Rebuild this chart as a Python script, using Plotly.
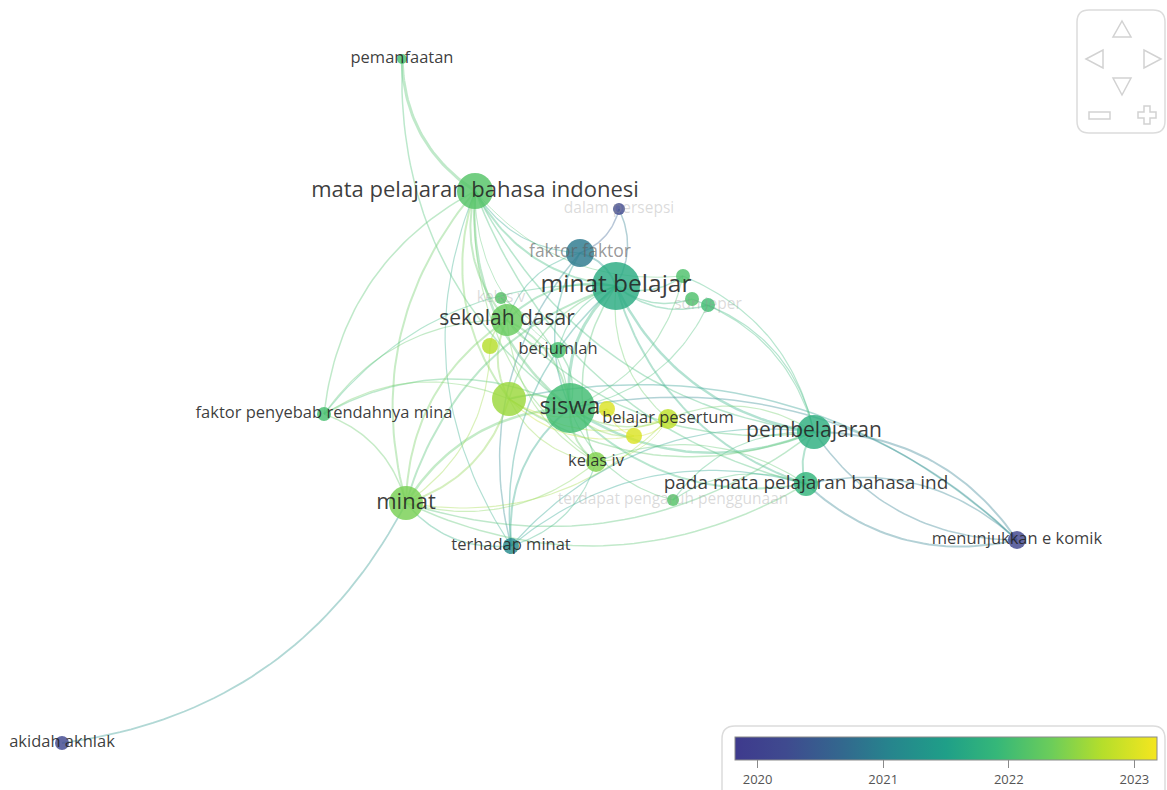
import numpy as np
import plotly.graph_objects as go

# ---------------- data ----------------
node_ids = ["pemanfaatan", "mpbi", "persepsi", "faktor", "minat_belajar", "n1", "n2", "sdn",
            "kelas_v", "sd", "n3", "berjumlah", "n4", "siswa", "n5", "pesertum", "n6",
            "kelas_iv", "terdapat", "pada_mata", "pembelajaran", "penyebab", "minat",
            "terhadap", "komik", "akidah"]
node_labels = ["pemanfaatan", "mata pelajaran bahasa indonesi", "dalam persepsi", "faktor faktor",
               "minat belajar", "", "", "sdn jeper", "kelas v", "sekolah dasar", "", "berjumlah",
               "", "siswa", "", "belajar pesertum", "", "kelas iv", "terdapat pengaruh penggunaan",
               "pada mata pelajaran bahasa ind", "pembelajaran", "faktor penyebab rendahnya mina",
               "minat", "terhadap minat", "menunjukkan e komik", "akidah akhlak"]
node_x = [402, 475, 619, 580, 616, 683, 692, 708, 501, 507, 490, 558, 509, 570, 607, 668, 634,
          596, 673, 806, 814, 324, 406, 511, 1017, 62]
node_y = [59, 191, 209, 253, 286, 276, 299, 305, 298, 320, 346, 350, 399, 408, 409, 419, 436,
          462, 500, 484, 432, 414, 503, 546, 540, 743]
node_radius = [5, 18, 6, 14, 24, 7, 7, 7, 6, 16, 8, 8, 17, 25, 8, 10, 8, 10, 6, 12, 17, 7, 17,
               8, 9, 7]
node_year = [2022.05, 2022.15, 2020.2, 2020.9, 2021.7, 2022.1, 2022.1, 2022.0, 2022.15, 2022.3,
             2022.75, 2022.05, 2022.6, 2022.0, 2023.0, 2022.8, 2023.0, 2022.45, 2022.15, 2021.85,
             2021.75, 2022.05, 2022.4, 2021.15, 2020.1, 2020.15]
label_size = [16.5, 22, 15.5, 17.5, 24.5, 0, 0, 15.5, 15.5, 21, 0, 16.5, 0, 24, 0, 16.5, 0,
              16.5, 15.5, 19, 21, 16.5, 22, 16.5, 16.5, 16.5]
label_faint = [0, 0, 2, 1, 0, 0, 0, 2, 2, 0, 0, 0, 0, 0, 0, 0, 0, 0, 2, 0, 0, 0, 0, 0, 0, 0]

edge_src = ["pemanfaatan", "pemanfaatan",
            "mpbi", "mpbi", "mpbi", "mpbi", "mpbi", "mpbi", "mpbi", "mpbi", "mpbi", "mpbi", "mpbi",
            "mpbi", "mpbi",
            "minat_belajar", "minat_belajar", "minat_belajar", "minat_belajar", "minat_belajar",
            "minat_belajar", "minat_belajar", "minat_belajar", "minat_belajar", "minat_belajar",
            "minat_belajar", "minat_belajar", "komik", "minat_belajar", "minat_belajar",
            "minat_belajar", "minat_belajar",
            "faktor", "faktor", "faktor", "faktor",
            "siswa", "siswa", "siswa", "siswa", "siswa", "siswa", "siswa", "siswa", "siswa",
            "siswa", "siswa", "komik", "siswa", "siswa", "siswa", "siswa", "siswa",
            "sd", "sd", "sd", "sd", "sd", "sd", "sd", "sd",
            "minat", "minat", "minat", "minat", "minat", "akidah", "minat", "minat", "minat",
            "n4", "n4", "n4", "n4", "n4", "n4",
            "pembelajaran", "komik", "pembelajaran", "pembelajaran", "pembelajaran",
            "pembelajaran", "pembelajaran", "pembelajaran", "pembelajaran",
            "pada_mata", "komik", "pada_mata", "pada_mata", "pada_mata",
            "n5", "n5", "n6", "kelas_iv", "terhadap"]
edge_tgt = ["mpbi", "siswa",
            "minat_belajar", "siswa", "sd", "minat", "penyebab", "pembelajaran", "pada_mata", "n4",
            "kelas_iv", "terhadap", "faktor", "n1", "berjumlah",
            "siswa", "sd", "minat", "pembelajaran", "pada_mata", "faktor", "persepsi", "n1", "n2",
            "sdn", "kelas_iv", "terhadap", "n4", "n4", "berjumlah", "penyebab", "pesertum",
            "persepsi", "siswa", "terhadap", "sd",
            "sd", "minat", "pembelajaran", "pada_mata", "n4", "n5", "n6", "pesertum", "kelas_iv",
            "terhadap", "penyebab", "siswa", "berjumlah", "sdn", "n1", "kelas_v", "terdapat",
            "minat", "n4", "n3", "kelas_v", "pembelajaran", "penyebab", "kelas_iv", "berjumlah",
            "n4", "pembelajaran", "pada_mata", "terhadap", "penyebab", "minat", "kelas_iv", "n3",
            "pesertum",
            "pembelajaran", "n5", "n6", "penyebab", "kelas_iv", "pesertum",
            "pada_mata", "pembelajaran", "komik", "n1", "sdn", "pesertum", "terdapat", "terhadap",
            "n2",
            "komik", "pada_mata", "terdapat", "terhadap", "kelas_iv",
            "n6", "pesertum", "pesertum", "pesertum", "kelas_iv"]
edge_width = [3.0, 1.5,
              2.0, 2.5, 2.0, 2.0, 1.5, 1.5, 1.5, 2.0, 1.2, 1.2, 1.2, 1.0, 1.0,
              3.0, 2.0, 2.0, 2.5, 2.0, 2.0, 1.5, 1.5, 1.5, 1.5, 1.5, 1.5, 1.5, 1.5, 1.2, 1.2, 1.2,
              1.5, 1.5, 1.5, 1.2,
              2.0, 2.5, 2.5, 2.0, 2.0, 1.5, 1.5, 1.5, 2.0, 2.0, 1.5, 1.5, 1.5, 1.2, 1.2, 1.2, 1.2,
              2.0, 2.0, 1.5, 1.2, 1.5, 1.2, 1.2, 1.2,
              2.0, 1.5, 1.5, 1.5, 1.5, 1.8, 1.2, 1.2, 1.2,
              1.5, 1.2, 1.2, 1.2, 1.2, 1.2,
              2.0, 2.0, 1.5, 1.2, 1.2, 1.2, 1.2, 1.2, 1.2,
              2.0, 1.5, 1.2, 1.2, 1.2,
              1.2, 1.2, 1.2, 1.0, 1.2]

year_ticks = [2020, 2021, 2022, 2023]
year_min, year_max = 2019.82, 2023.18

# ---------------- colours ----------------
cscale_hex = [(0.0, "#3e3a8d"), (0.12, "#3f4a8f"), (0.25, "#33678e"), (0.37, "#26858d"),
              (0.5, "#1f9f88"), (0.62, "#35b779"), (0.75, "#6ccd5a"), (0.87, "#b5de2b"),
              (1.0, "#f5e61f")]


def hex2rgb(h):
    h = h.lstrip("#")
    return [int(h[i:i + 2], 16) for i in (0, 2, 4)]


def color_at(year, alpha=1.0, lighten=0.0):
    t = min(max((year - year_min) / (year_max - year_min), 0), 1)
    for (p0, c0), (p1, c1) in zip(cscale_hex[:-1], cscale_hex[1:]):
        if p0 <= t <= p1:
            f = (t - p0) / (p1 - p0) if p1 > p0 else 0
            a, b = hex2rgb(c0), hex2rgb(c1)
            r = [a[i] + (b[i] - a[i]) * f for i in range(3)]
            r = [round(v + (255 - v) * lighten) for v in r]
            return f"rgba({r[0]},{r[1]},{r[2]},{alpha})"
    return cscale_hex[-1][1]


plotly_cscale = [[p, c] for p, c in cscale_hex]

idx = {k: i for i, k in enumerate(node_ids)}

fig = go.Figure()

# ---------------- edges ----------------
ts = np.linspace(0, 1, 40)
for s, t, w in zip(edge_src, edge_tgt, edge_width):
    i, j = idx[s], idx[t]
    x0, y0, x1, y1 = node_x[i], node_y[i], node_x[j], node_y[j]
    dx, dy = x1 - x0, y1 - y0
    k = 0.26
    cx, cy = (x0 + x1) / 2 - k * dy, (y0 + y1) / 2 + k * dx
    bx = (1 - ts) ** 2 * x0 + 2 * (1 - ts) * ts * cx + ts ** 2 * x1
    by = (1 - ts) ** 2 * y0 + 2 * (1 - ts) * ts * cy + ts ** 2 * y1
    yr = (node_year[i] + node_year[j]) / 2
    fig.add_trace(go.Scatter(x=bx, y=by, mode="lines",
                             line=dict(color=color_at(yr, 0.42, 0.15), width=w),
                             hoverinfo="skip", showlegend=False))

# ---------------- nodes ----------------
fig.add_trace(go.Scatter(
    x=node_x, y=node_y, mode="markers",
    marker=dict(size=[2 * r for r in node_radius], color=node_year, colorscale=plotly_cscale,
                cmin=year_min, cmax=year_max, opacity=0.82, line=dict(width=0),
                showscale=True,
                colorbar=dict(orientation="h", x=946 / 1167, xanchor="center",
                              y=1 - 737 / 790, yanchor="top", len=422, lenmode="pixels",
                              thickness=23, thicknessmode="pixels", outlinewidth=1,
                              outlinecolor="#8a8a8a", tickvals=year_ticks, ticks="outside",
                              ticklen=8, tickcolor="#8a8a8a", xpad=0, ypad=0,
                              tickfont=dict(size=13, color="#555", family="Open Sans"))),
    hoverinfo="skip", showlegend=False))

# ---------------- labels ----------------
label_colors = ["rgba(35,35,35,0.88)", "rgba(95,95,95,0.65)", "rgba(150,150,150,0.35)"]
lx, ly, lt, ls, lc = [], [], [], [], []
for i, lab in enumerate(node_labels):
    if lab:
        lx.append(node_x[i]); ly.append(node_y[i]); lt.append(lab)
        ls.append(label_size[i]); lc.append(label_colors[label_faint[i]])
fig.add_trace(go.Scatter(x=lx, y=ly, mode="text", text=lt, textposition="middle center",
                         textfont=dict(size=ls, color=lc, family="Open Sans"),
                         hoverinfo="skip", showlegend=False))


# ---------------- decorations (nav control, colour-bar frame) ----------------
def rounded(x0, y0, x1, y1, r):
    return (f"M{x0 + r},{y0} L{x1 - r},{y0} Q{x1},{y0} {x1},{y0 + r} L{x1},{y1 - r} "
            f"Q{x1},{y1} {x1 - r},{y1} L{x0 + r},{y1} Q{x0},{y1} {x0},{y1 - r} "
            f"L{x0},{y0 + r} Q{x0},{y0} {x0 + r},{y0} Z")


gray = "#d2d2d2"
shapes = [
    dict(type="path", path=rounded(1077, 10, 1165, 133, 12), line=dict(color="#dcdcdc", width=1.5)),
    dict(type="path", path="M1122,21 L1131,37 L1113,37 Z", line=dict(color=gray, width=1.5)),
    dict(type="path", path="M1122,95 L1131,78 L1113,78 Z", line=dict(color=gray, width=1.5)),
    dict(type="path", path="M1086,59 L1103,50 L1103,68 Z", line=dict(color=gray, width=1.5)),
    dict(type="path", path="M1161,59 L1144,50 L1144,68 Z", line=dict(color=gray, width=1.5)),
    dict(type="rect", x0=1089, y0=112, x1=1110, y1=119, line=dict(color=gray, width=1.5)),
    dict(type="path",
         path="M1144,106 L1150,106 L1150,112 L1156,112 L1156,118 L1150,118 L1150,124 "
              "L1144,124 L1144,118 L1138,118 L1138,112 L1144,112 Z",
         line=dict(color=gray, width=1.5)),
    dict(type="path", path="M722,792 L722,739 Q722,726 735,726 L1153,726 Q1165,726 1165,739 L1165,792",
         line=dict(color="#dcdcdc", width=1.5)),
]
for s in shapes:
    s.update(xref="x", yref="y", layer="above")

fig.update_layout(
    width=1167, height=790, margin=dict(l=0, r=0, t=0, b=0),
    paper_bgcolor="white", plot_bgcolor="white", showlegend=False,
    xaxis=dict(range=[0, 1167], visible=False, fixedrange=True),
    yaxis=dict(range=[790, 0], visible=False, fixedrange=True),
    shapes=shapes, font=dict(family="Open Sans"),
)

fig.write_html("out.html")
